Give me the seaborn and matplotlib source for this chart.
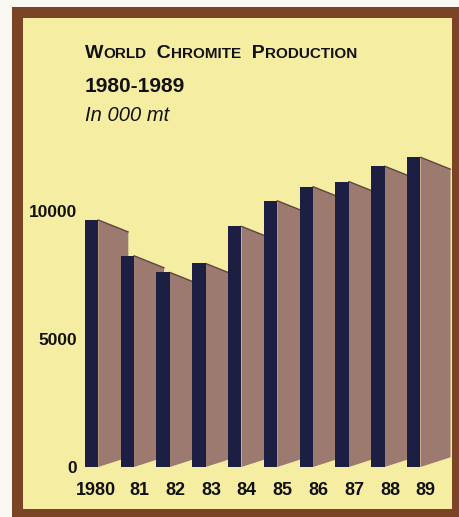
import numpy as np
import matplotlib
matplotlib.use("Agg")
import matplotlib.pyplot as plt
import seaborn as sns
import pandas as pd
from matplotlib.patches import Rectangle, Polygon

# values (000 mt)
years = ["1980", "81", "82", "83", "84", "85", "86", "87", "88", "89"]
production = [9650, 8250, 7600, 7950, 9400, 10400, 10950, 11150, 11750, 12100]
yticks = [0, 5000, 10000]

BG = "#f5eda2"
FRAME = "#7a4425"
FRONT = "#1c1f42"
SIDE = "#9c7a70"
SIDE_EDGE = "#5e4640"

sns.set_theme(style="white")
plt.rcParams["font.family"] = ["Liberation Sans", "DejaVu Sans"]

W, H = 460, 517
fig = plt.figure(figsize=(W / 100, H / 100), dpi=100)
fig.patch.set_facecolor("#faf8f2")

# brown frame and yellow panel
fig.patches.append(Rectangle((12 / W, 0), 1, (H - 7) / H, transform=fig.transFigure,
                             facecolor=FRAME, edgecolor="none", zorder=-2))
fig.patches.append(Rectangle((23 / W, 8 / H), (452 - 23) / W, (509 - 18) / H,
                             transform=fig.transFigure, facecolor=BG, edgecolor="none", zorder=-1))

ax = fig.add_axes([80 / W, 50 / H, 372 / W, 327 / H])
ax.patch.set_alpha(0)

df = pd.DataFrame({"year": years, "production": production})
bw = 0.377
sns.barplot(data=df, x="year", y="production", color=FRONT, width=bw, saturation=1,
            linewidth=0, ax=ax, zorder=3)

# side faces of the pseudo-3D bars
depth = 0.84
drop = 470
rise = 380
for i, v in enumerate(production):
    xr = i + bw / 2
    ax.add_patch(Polygon([(xr, 0), (xr, v), (xr + depth, v - drop), (xr + depth, rise)],
                         closed=True, facecolor=SIDE, edgecolor="none", zorder=2))
    ax.plot([xr, xr + depth], [v, v - drop], color=SIDE_EDGE, lw=1, zorder=2.5)

ax.set_xlim(-0.321, 10.07)
ax.set_ylim(0, 12773)
for s in ax.spines.values():
    s.set_visible(False)
ax.grid(False)
ax.set_xlabel("")
ax.set_ylabel("")
ax.set_yticks(yticks)
ax.set_yticklabels([str(t) for t in yticks], fontsize=12.5, fontweight="bold", color="#111111")
label_shift = np.array([0.13] + [0.34] * (len(years) - 1))
ax.set_xticks(np.arange(len(years)) + label_shift)
ax.set_xticklabels(years, fontsize=13, fontweight="bold", color="#111111")
ax.tick_params(axis="y", length=0, pad=2)
ax.tick_params(axis="x", length=0, pad=11)

# title in small caps, built piece by piece
pieces = [("W", 14), ("ORLD", 11), ("  C", 14), ("HROMITE", 11),
          ("  P", 14), ("RODUCTION", 11)]
y0 = (H - 58) / H
anchor = fig.text(85 / W, y0, pieces[0][0], fontsize=pieces[0][1], fontweight="bold",
                  va="baseline", ha="left", color="#111111")
for txt, fs in pieces[1:]:
    anchor = ax.annotate(txt, xy=(1, y0), xycoords=(anchor, "figure fraction"),
                         fontsize=fs, fontweight="bold", va="baseline", ha="left",
                         color="#111111", annotation_clip=False)

fig.text(85 / W, (H - 92) / H, "1980-1989", fontsize=15, fontweight="bold",
         va="baseline", ha="left", color="#111111")
fig.text(85 / W, (H - 121) / H, "In 000 mt", fontsize=14.5, style="italic",
         va="baseline", ha="left", color="#111111")

fig.savefig("out.png", dpi=100)
